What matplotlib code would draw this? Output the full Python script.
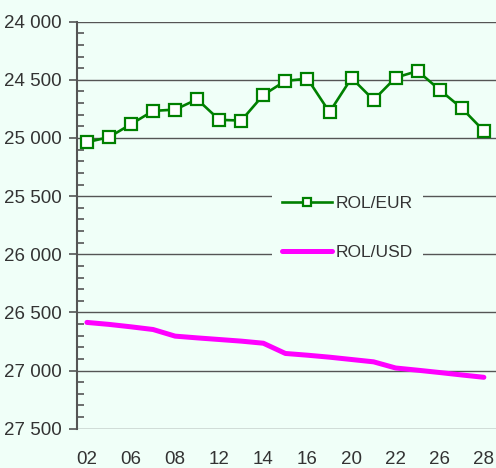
import matplotlib
matplotlib.use("Agg")
import matplotlib.pyplot as plt
from matplotlib.ticker import MultipleLocator, FuncFormatter

# trading days (only every other one is labelled)
days = ["02", "05", "06", "07", "08", "09", "12", "13", "14", "15",
        "16", "19", "20", "21", "22", "23", "26", "27", "28"]

rol_eur = [25036, 24993, 24881, 24767, 24756, 24667, 24844, 24850, 24630, 24509,
           24490, 24778, 24484, 24673, 24481, 24424, 24587, 24744, 24939]

rol_usd = [26586, 26603, 26624, 26647, 26704, 26719, 26733, 26747, 26765, 26853,
           26868, 26885, 26905, 26925, 26978, 26997, 27017, 27038, 27058]

bg = "#f0fff8"
txt = "#333333"
plt.rcParams["font.family"] = ["Liberation Sans Narrow", "Liberation Sans", "DejaVu Sans"]

fig = plt.figure(figsize=(4.96, 4.68), dpi=100, facecolor=bg)
ax = fig.add_axes([77/496, 1 - 428.7/468, 1 - 77/496, (428.7 - 21.7)/468])
ax.set_facecolor(bg)

x = list(range(len(days)))
ax.plot(x, rol_eur, color="#008000", lw=1.9, marker="s", ms=8.5,
        mfc="white", mec="#008000", mew=1.6, label="ROL/EUR", zorder=4)
ax.plot(x, rol_usd, color="#ff00ff", lw=3.6, solid_capstyle="round",
        solid_joinstyle="round", label="ROL/USD", zorder=3)

ax.set_ylim(27500, 24000)
ax.set_xlim(-0.45, 18.55)
ax.yaxis.set_major_locator(MultipleLocator(500))
ax.yaxis.set_minor_locator(MultipleLocator(100))
ax.yaxis.set_major_formatter(FuncFormatter(lambda v, p: f"{int(v):,}".replace(",", " ")))
ax.set_xticks(x[::2])
ax.set_xticklabels(days[::2])

ax.grid(axis="y", which="major", color="#555555", lw=1.0)
ax.set_axisbelow(True)
for s in ["top", "right", "bottom"]:
    ax.spines[s].set_visible(False)
ax.spines["left"].set_color("#555555")
ax.spines["left"].set_linewidth(1.5)

ax.tick_params(axis="y", which="major", direction="out", length=6, width=1.2,
               color="#555555", labelsize=13.5, labelcolor=txt, pad=5)
ax.tick_params(axis="y", which="minor", direction="in", length=5, width=1.2,
               color="#555555")
ax.tick_params(axis="x", length=0, labelsize=13.5, labelcolor=txt, pad=16)

leg = ax.legend(loc="center", bbox_to_anchor=(347.5/496, 1 - 228/468),
                bbox_transform=fig.transFigure, frameon=True, facecolor=bg,
                edgecolor="none", framealpha=1, fontsize=12.5, labelcolor=txt,
                handlelength=2.9, handletextpad=0.2, labelspacing=1.95,
                borderpad=0.55, markerscale=0.75)
leg.set_zorder(5)

fig.savefig("out.png", dpi=100, facecolor=bg)
